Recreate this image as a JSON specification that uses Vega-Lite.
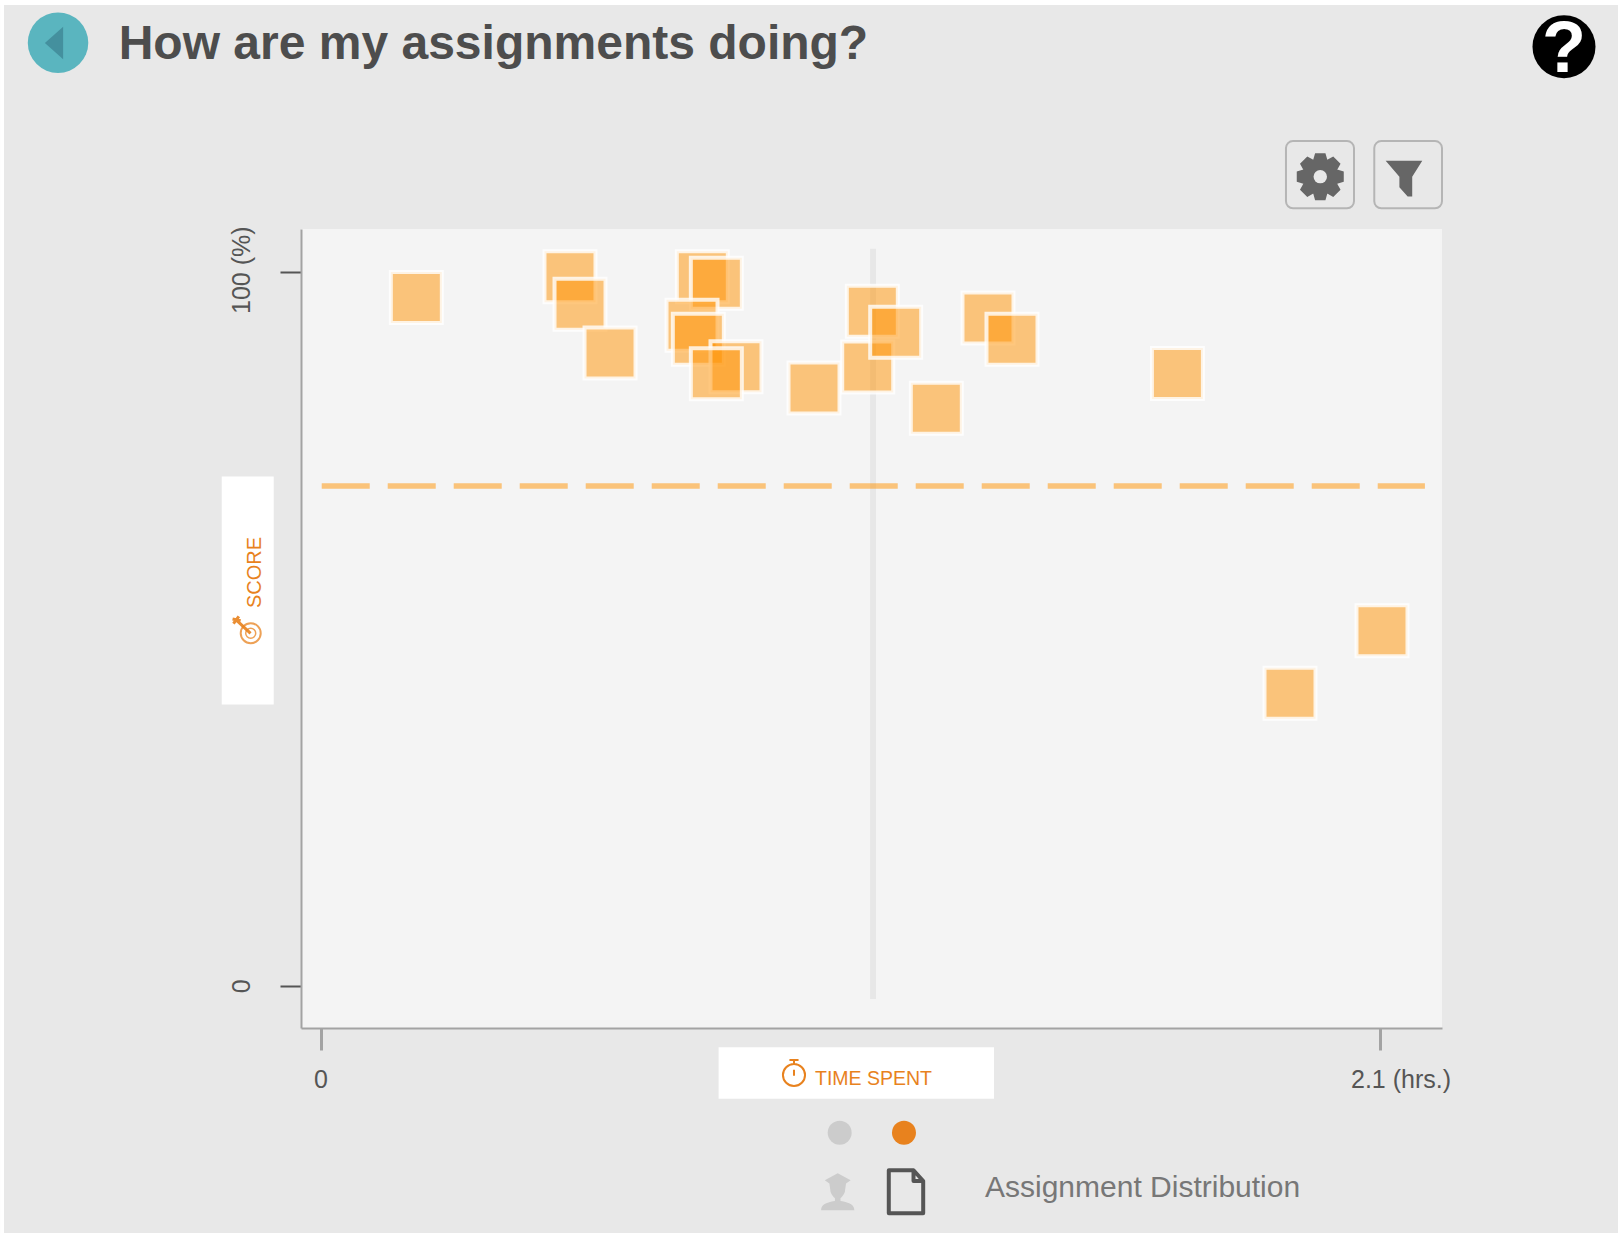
{"$schema":"https://vega.github.io/schema/vega-lite/v6.json","data":{"values":[{"panel":"assignment distribution"}]},"width":1141,"height":799,"autosize":"none","padding":{"left":301,"top":229,"right":176,"bottom":205},"background":"#e8e8e8","view":{"fill":"#f4f4f4","stroke":null},"config":{"font":"Liberation Sans"},
"layer":[
{"mark":{"type":"rect","fill":"#ffffff"},"encoding":{"x":{"datum":-0.6355,"scale":{"domain":[-0.0387,2.2239],"nice":false,"zero":false},"axis":{"values":[0,2.1],"title":null,"grid":false,"domainColor":"#a3a3a3","domainWidth":2,"tickColor":"#a3a3a3","tickWidth":3,"tickSize":22,"labelExpr":"datum.value==0?'0':'2.1 (hrs.)'","labelFont":"Liberation Sans","labelFontSize":25,"labelColor":"#555555","labelPadding":17,"labelOverlap":false,"labelBound":false,"labelFlush":false,"labelOffset":{"condition":{"test":"datum.value>1","value":21},"value":0}}},"x2":{"datum":2.5729},"y":{"datum":138.05,"scale":{"domain":[-5.92,105.98],"nice":false,"zero":false},"axis":{"values":[0,100],"title":null,"grid":false,"domainColor":"#a3a3a3","domainWidth":2,"tickColor":"#555555","tickWidth":2,"tickSize":21,"labelExpr":"datum.value==0?'0':'100 (%)'","labelFont":"Liberation Sans","labelFontSize":25,"labelColor":"#555555","labelAngle":270,"labelAlign":"center","labelBaseline":"alphabetic","labelPadding":31,"labelOverlap":false,"labelBound":false,"labelFlush":false,"labelOffset":{"condition":{"test":"datum.value>50","value":-2},"value":0}}},"y2":{"datum":137.35}}},
{"mark":{"type":"rect","fill":"#ffffff"},"encoding":{"x":{"datum":-0.6355},"x2":{"datum":-0.6276},"y":{"datum":138.05},"y2":{"datum":-34.64}}},
{"mark":{"type":"text","text":"How are my assignments doing?","font":"Liberation Sans","fontSize":48,"fontWeight":"bold","color":"#4d4d4d","align":"left","baseline":"alphabetic"},"encoding":{"x":{"datum":-0.4002},"y":{"datum":129.8}}},
{"mark":{"type":"rect","fill":"#ffffff"},"encoding":{"x":{"datum":-0.1959},"x2":{"datum":-0.0928},"y":{"datum":71.33},"y2":{"datum":39.37}}},
{"mark":{"type":"rect","fill":"#ffffff"},"encoding":{"x":{"datum":0.7894},"x2":{"datum":1.3355},"y":{"datum":-8.63},"y2":{"datum":-15.83}}},
{"mark":{"type":"rect","fill":"transparent","stroke":"#b5b5b5","strokeWidth":2,"cornerRadius":7},"encoding":{"x":{"datum":1.9145},"x2":{"datum":2.0494},"y":{"datum":118.3},"y2":{"datum":108.88}}},
{"mark":{"type":"rect","fill":"transparent","stroke":"#b5b5b5","strokeWidth":2,"cornerRadius":7},"encoding":{"x":{"datum":2.0896},"x2":{"datum":2.2239},"y":{"datum":118.3},"y2":{"datum":108.88}}},
{"data":{"values":[{"hours":1.0956,"low":-1.86,"high":103.2}]},"mark":{"type":"rule","color":"#000000","opacity":0.05,"strokeWidth":6},"encoding":{"x":{"field":"hours","type":"quantitative"},"y":{"field":"low","type":"quantitative"},"y2":{"field":"high"}}},
{"data":{"values":[{"start":0.0024,"end":2.19,"threshold":70}]},"mark":{"type":"rule","color":"#ff9100","opacity":0.5,"strokeWidth":5.5,"strokeDash":[48,18]},"encoding":{"x":{"field":"start","type":"quantitative"},"x2":{"field":"end"},"y":{"field":"threshold","type":"quantitative"}}},
{"data":{"values":[
{"assignment":"A","hours":0.190,"score":96.39},
{"assignment":"B","hours":0.4947,"score":99.30},
{"assignment":"C","hours":0.5146,"score":95.43},
{"assignment":"D","hours":0.5741,"score":88.61},
{"assignment":"E","hours":0.7571,"score":99.30},
{"assignment":"F","hours":0.7849,"score":98.38},
{"assignment":"G","hours":0.7367,"score":92.49},
{"assignment":"H","hours":0.7492,"score":90.53},
{"assignment":"I","hours":0.8239,"score":86.69},
{"assignment":"J","hours":0.7849,"score":85.71},
{"assignment":"K","hours":0.9786,"score":83.71},
{"assignment":"L","hours":1.0851,"score":86.65},
{"assignment":"M","hours":1.0942,"score":94.45},
{"assignment":"N","hours":1.1406,"score":91.51},
{"assignment":"O","hours":1.2211,"score":80.87},
{"assignment":"P","hours":1.3236,"score":93.51},
{"assignment":"Q","hours":1.3712,"score":90.53},
{"assignment":"R","hours":1.6992,"score":85.74},
{"assignment":"S","hours":1.9225,"score":40.95},
{"assignment":"T","hours":2.1049,"score":49.72}]},
"mark":{"type":"point","shape":"square","filled":true,"size":2601,"opacity":1,"fill":"#ff9100","fillOpacity":0.5,"stroke":"#ffffff","strokeOpacity":0.8,"strokeWidth":4},"encoding":{"x":{"field":"hours","type":"quantitative"},"y":{"field":"score","type":"quantitative"},"order":{"field":"assignment"}}},
{"mark":{"type":"point","shape":"circle","filled":true,"size":3660,"opacity":1,"color":"#5ab5bf"},"encoding":{"x":{"datum":-0.5205},"y":{"datum":132.07}}},
{"mark":{"type":"point","shape":"M0.56,-1L0.56,1L-0.56,0Z","filled":true,"size":1063,"opacity":1,"color":"#44909e"},"encoding":{"x":{"datum":-0.5285},"y":{"datum":132.03}}},
{"mark":{"type":"point","shape":"circle","filled":true,"size":3969,"opacity":1,"color":"#000000"},"encoding":{"x":{"datum":2.4658},"y":{"datum":131.51}}},
{"mark":{"type":"text","text":"?","font":"Liberation Sans","fontWeight":"bold","fontSize":72,"color":"#ffffff","baseline":"middle","align":"center","dy":3},"encoding":{"x":{"datum":2.4658},"y":{"datum":131.51}}},
{"mark":{"type":"point","shape":"M-0.3,-0.72L-0.22,-1L0.22,-1L0.3,-0.72L0.297,-0.721L0.552,-0.863L0.863,-0.552L0.721,-0.297L0.72,-0.3L1,-0.22L1,0.22L0.72,0.3L0.721,0.297L0.863,0.552L0.552,0.863L0.297,0.721L0.3,0.72L0.22,1L-0.22,1L-0.3,0.72L-0.297,0.721L-0.552,0.863L-0.863,0.552L-0.721,0.297L-0.72,0.3L-1,0.22L-1,-0.22L-0.72,-0.3L-0.721,-0.297L-0.863,-0.552L-0.552,-0.863L-0.297,-0.721Z","filled":true,"size":2209,"opacity":1,"color":"#666666"},"encoding":{"x":{"datum":1.9825},"y":{"datum":113.31}}},
{"mark":{"type":"point","shape":"circle","filled":true,"size":180,"opacity":1,"color":"#e8e8e8"},"encoding":{"x":{"datum":1.9825},"y":{"datum":113.31}}},
{"mark":{"type":"point","shape":"M-1,-0.98L1,-0.98L0.45,-0.1L0.45,0.98L0.2,0.98L-0.25,0.47L-0.25,-0.1Z","filled":true,"size":1340,"opacity":1,"color":"#666666"},"encoding":{"x":{"datum":2.1485},"y":{"datum":113.03}}},
{"mark":{"type":"text","text":"SCORE","font":"Liberation Sans","fontSize":20,"color":"#e8821e","angle":270,"align":"center","baseline":"alphabetic"},"encoding":{"x":{"datum":-0.118},"y":{"datum":57.87}}},
{"mark":{"type":"point","shape":"circle","filled":false,"size":400,"opacity":0.75,"color":"#e8821e","strokeWidth":2},"encoding":{"x":{"datum":-0.1384},"y":{"datum":49.37}}},
{"mark":{"type":"point","shape":"circle","filled":false,"size":100,"opacity":0.75,"color":"#e8821e","strokeWidth":1.5},"encoding":{"x":{"datum":-0.1384},"y":{"datum":49.37}}},
{"mark":{"type":"point","shape":"M1,1L-0.6,-0.5M-0.9,-0.1L-0.3,-0.9M-1,-0.6L-0.1,-0.4","filled":false,"size":324,"opacity":0.9,"color":"#e8821e","strokeWidth":3},"encoding":{"x":{"datum":-0.1566},"y":{"datum":50.6}}},
{"mark":{"type":"text","text":"TIME SPENT","font":"Liberation Sans","fontSize":19.5,"color":"#e8821e","align":"left","baseline":"alphabetic"},"encoding":{"x":{"datum":0.9805},"y":{"datum":-13.91}}},
{"mark":{"type":"point","shape":"M0,-0.7C0.47,-0.7,0.85,-0.32,0.85,0.15C0.85,0.62,0.47,1,0,1C-0.47,1,-0.85,0.62,-0.85,0.15C-0.85,-0.32,-0.47,-0.7,0,-0.7M-0.35,-1L0.35,-1M0,-1L0,-0.7M0,-0.25L0,0.2","filled":false,"size":676,"opacity":1,"color":"#e8821e","strokeWidth":2},"encoding":{"x":{"datum":0.9389},"y":{"datum":-12.23}}},
{"mark":{"type":"point","shape":"circle","filled":true,"size":576,"opacity":1,"color":"#cccccc"},"encoding":{"x":{"datum":1.0295},"y":{"datum":-20.59}}},
{"mark":{"type":"point","shape":"circle","filled":true,"size":576,"opacity":1,"color":"#e8821e"},"encoding":{"x":{"datum":1.157},"y":{"datum":-20.59}}},
{"mark":{"type":"point","shape":"M-0.7,-0.62L0,-1L0.7,-0.62L0.45,-0.45L0.4,-0.1C0.4,0.1,0.2,0.3,0.15,0.35L0.15,0.5C0.4,0.55,0.9,0.6,0.9,1L-0.9,1C-0.9,0.6,-0.4,0.55,-0.15,0.5L-0.15,0.35C-0.2,0.3,-0.4,0.1,-0.4,-0.1L-0.45,-0.45Z","filled":true,"size":1369,"opacity":1,"color":"#cccccc"},"encoding":{"x":{"datum":1.0256},"y":{"datum":-28.85}}},
{"mark":{"type":"point","shape":"M-0.8,-1L0.35,-1L0.8,-0.5L0.8,1L-0.8,1ZM0.35,-1L0.35,-0.5L0.8,-0.5","filled":false,"size":1849,"opacity":1,"color":"#555555","strokeWidth":4,"strokeJoin":"round"},"encoding":{"x":{"datum":1.161},"y":{"datum":-28.85}}},
{"mark":{"type":"text","text":"Assignment Distribution","font":"Liberation Sans","fontSize":30,"color":"#777777","align":"left","baseline":"alphabetic"},"encoding":{"x":{"datum":1.3177},"y":{"datum":-29.55}}}
]}
